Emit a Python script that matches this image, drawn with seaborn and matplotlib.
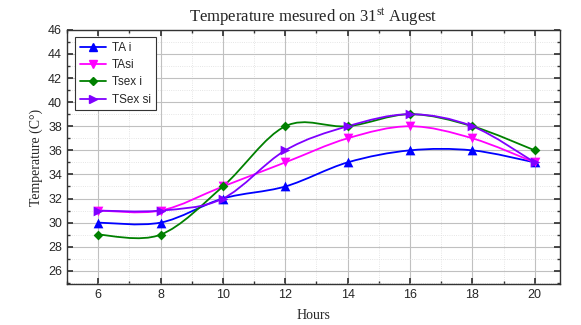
import numpy as np
import pandas as pd
import matplotlib
matplotlib.use("Agg")
import matplotlib.pyplot as plt
from matplotlib.path import Path
from matplotlib.patches import PathPatch
from matplotlib.lines import Line2D
from matplotlib.ticker import MultipleLocator
import seaborn as sns

# Datos
hours = [6, 8, 10, 12, 14, 16, 18, 20]
ta_i = [30, 30, 32, 33, 35, 36, 36, 35]
ta_si = [31, 31, 33, 35, 37, 38, 37, 35]
tsex_i = [29, 29, 33, 38, 38, 39, 38, 36]
tsex_si = [31, 31, 32, 36, 38, 39, 38, 35]

series = ["TA i", "TAsi", "Tsex i", "TSex si"]
colors = ["#0000ff", "#ff00ff", "#008000", "#8000ff"]
markers = ["^", "v", "D", ">"]
msizes = [7, 7, 5, 7]

sns.set_theme(style="ticks")
plt.rcParams["font.family"] = ["Liberation Sans", "DejaVu Sans"]

df = pd.DataFrame({"Hours": hours, "TA i": ta_i, "TAsi": ta_si,
                   "Tsex i": tsex_i, "TSex si": tsex_si})
long = df.melt(id_vars="Hours", var_name="serie", value_name="temp")


def smooth_path(x, y):
    # curva suave tipo Catmull-Rom con segmentos Bezier
    pts = np.column_stack([x, y]).astype(float)
    ext = np.vstack([pts[0], pts, pts[-1]])
    verts = [pts[0]]
    codes = [Path.MOVETO]
    for i in range(len(pts) - 1):
        p0, p1, p2, p3 = ext[i], ext[i + 1], ext[i + 2], ext[i + 3]
        verts += [p1 + (p2 - p0) / 6, p2 - (p3 - p1) / 6, p2]
        codes += [Path.CURVE4] * 3
    return Path(verts, codes)


fig = plt.figure(figsize=(5.81, 3.25), dpi=100)
ax = fig.add_axes([0.1153, 0.126, 0.848, 0.782])

for name, c in zip(series, colors):
    sub = long[long.serie == name]
    ax.add_patch(PathPatch(smooth_path(sub.Hours, sub.temp), fc="none",
                           ec=c, lw=1.3, zorder=3))

for name, c, m, s in zip(series, colors, markers, msizes):
    sub = long[long.serie == name]
    sns.scatterplot(x=sub.Hours, y=sub.temp, ax=ax, color=c, marker=m,
                    s=s ** 2, edgecolor=c, linewidth=0, zorder=4, legend=False)

ax.set_xlim(5, 20.8)
ax.set_ylim(24.9, 46)
ax.xaxis.set_major_locator(MultipleLocator(2))
ax.xaxis.set_minor_locator(MultipleLocator(1))
ax.yaxis.set_major_locator(MultipleLocator(2))
ax.yaxis.set_minor_locator(MultipleLocator(1))
ax.grid(which="major", color="#c0c0c0", lw=0.8)
ax.grid(which="minor", color="#dddddd", lw=0.6, ls=":")
ax.tick_params(which="both", direction="in", top=True, right=True,
               labelsize=9, color="#333333")
ax.tick_params(which="major", length=4)
ax.tick_params(which="minor", length=2)
for sp in ax.spines.values():
    sp.set_color("#333333")
    sp.set_linewidth(1.0)

ax.set_xlabel("Hours", family="Liberation Serif", fontsize=10, labelpad=6)
ax.set_ylabel("Temperature (C°)", family="Liberation Serif", fontsize=10)
ax.set_title("Temperature mesured on $\\mathregular{31^{st}}$ Augest",
             family="Liberation Serif", fontsize=12, pad=6)

handles = [Line2D([], [], color=c, marker=m, ms=s * 0.9, lw=1.3)
           for c, m, s in zip(colors, markers, msizes)]
leg = ax.legend(handles, series, loc="upper left", fontsize=8.5,
                fancybox=False, framealpha=1, edgecolor="#333333",
                handlelength=2.2, handletextpad=0.5, borderpad=0.4,
                labelspacing=0.45, bbox_to_anchor=(0.005, 0.995))
leg.get_frame().set_linewidth(0.8)

fig.savefig("out.png", dpi=100)
